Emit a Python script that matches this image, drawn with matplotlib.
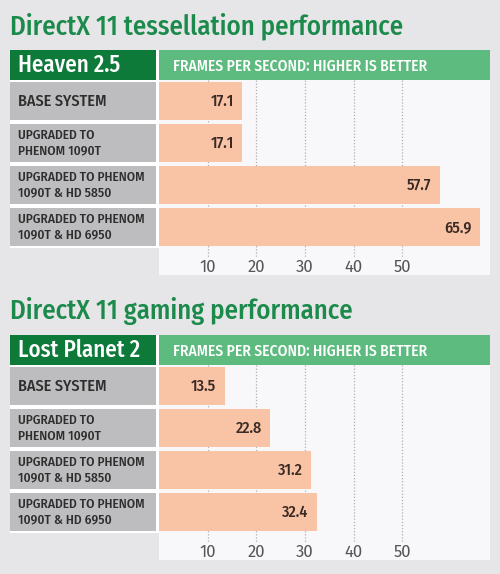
import matplotlib
matplotlib.use("Agg")
import matplotlib.pyplot as plt
from matplotlib.patches import Rectangle

# data
systems = ["BASE SYSTEM", "UPGRADED TO\nPHENOM 1090T",
           "UPGRADED TO PHENOM\n1090T & HD 5850", "UPGRADED TO PHENOM\n1090T & HD 6950"]
heaven_fps = [17.1, 17.1, 57.7, 65.9]
lost_planet_fps = [13.5, 22.8, 31.2, 32.4]
tick_values = [10, 20, 30, 40, 50]

titles = ["DirectX 11 tessellation performance", "DirectX 11 gaming performance"]
benchmarks = ["Heaven 2.5", "Lost Planet 2"]
header_text = "FRAMES PER SECOND: HIGHER IS BETTER"

W, H = 500, 574
BG = "#e6e6e8"
PANEL = "#f8f8fa"
TITLE_GREEN = "#1b8a4b"
DARK_GREEN = "#0d7a3a"
LIGHT_GREEN = "#5dbb80"
BAR = "#f9c3a6"
GRAY = "#bdbdbf"
COND = ["Fira Sans Condensed", "Roboto Condensed", "Roboto"]
FIRA = ["Fira Sans", "Roboto"]

fig = plt.figure(figsize=(W / 100, H / 100), dpi=100, facecolor=BG)


def fx(x):
    return x / W


def fy(y):
    return 1 - y / H


def px_rect(x0, y0, x1, y1, color):
    fig.add_artist(Rectangle((fx(x0), fy(y1)), fx(x1) - fx(x0), fy(y0) - fy(y1),
                             transform=fig.transFigure, facecolor=color,
                             edgecolor="none", zorder=0))


def px_axes(x0, y0, x1, y1):
    return fig.add_axes([fx(x0), fy(y1), fx(x1) - fx(x0), fy(y0) - fy(y1)])


def draw_chart(oy, title, bench, values):
    fig.text(fx(10), fy(oy + 34), title, color=TITLE_GREEN, fontsize=19.3,
             family=COND, fontweight="medium", va="baseline", ha="left")

    # white table background + header cells
    px_rect(10, oy + 50, 490, oy + 248, "white")
    px_rect(10, oy + 50, 156, oy + 80, DARK_GREEN)
    px_rect(159, oy + 50, 490, oy + 80, LIGHT_GREEN)
    fig.text(fx(18), fy(oy + 65.5), bench, color="white", fontsize=16.5,
             family=COND, fontweight="medium", va="center", ha="left")
    fig.text(fx(173), fy(oy + 66), header_text, color="white", fontsize=11.2,
             family=COND, fontweight="medium", va="center", ha="left")

    rows = range(len(systems))

    # label column
    lab = px_axes(10, oy + 80, 156, oy + 248)
    lab.barh(rows, [1] * len(systems), height=0.92, color=GRAY)
    lab.set_xlim(0, 1)
    lab.set_ylim(len(systems) - 0.5, -0.5)
    lab.axis("off")
    for i, name in zip(rows, systems):
        size = 9.6 if "\n" in name else 11.6
        lab.text(0.055, i, name, color="#2e2e2e", fontsize=size, family=COND,
                 fontweight="medium", va="center", ha="left", linespacing=1.25)

    # bars
    ax = px_axes(159, oy + 80, 490, oy + 275)
    ax.set_facecolor(PANEL)
    ax.vlines(tick_values, -0.5, len(systems) - 0.5 + 0.24, colors="#b0b0b0",
              linestyles=(0, (1, 1.5)), linewidth=0.9, zorder=1)
    ax.barh(rows, values, height=0.92, color=BAR, zorder=2)
    ax.set_xlim(0, 68)
    ax.set_ylim(len(systems) - 0.5 + 27 / 42, -0.5)
    ax.set_xticks(tick_values)
    ax.set_xticklabels([str(t) for t in tick_values])
    ax.set_yticks([])
    ax.tick_params(axis="x", length=0, pad=-11.5, labelsize=12, labelcolor="#555555")
    for lbl in ax.get_xticklabels():
        lbl.set_family(FIRA)
    for s in ax.spines.values():
        s.set_visible(False)
    for i, v in zip(rows, values):
        ax.annotate(f"{v}", (v, i), xytext=(-6, 0), textcoords="offset points",
                    ha="right", va="center", fontsize=11.5, fontweight="medium",
                    color="#3b2a24", family=COND, zorder=3)


draw_chart(0, titles[0], benchmarks[0], heaven_fps)
draw_chart(285, titles[1], benchmarks[1], lost_planet_fps)

fig.savefig("out.png", dpi=100, facecolor=BG)
